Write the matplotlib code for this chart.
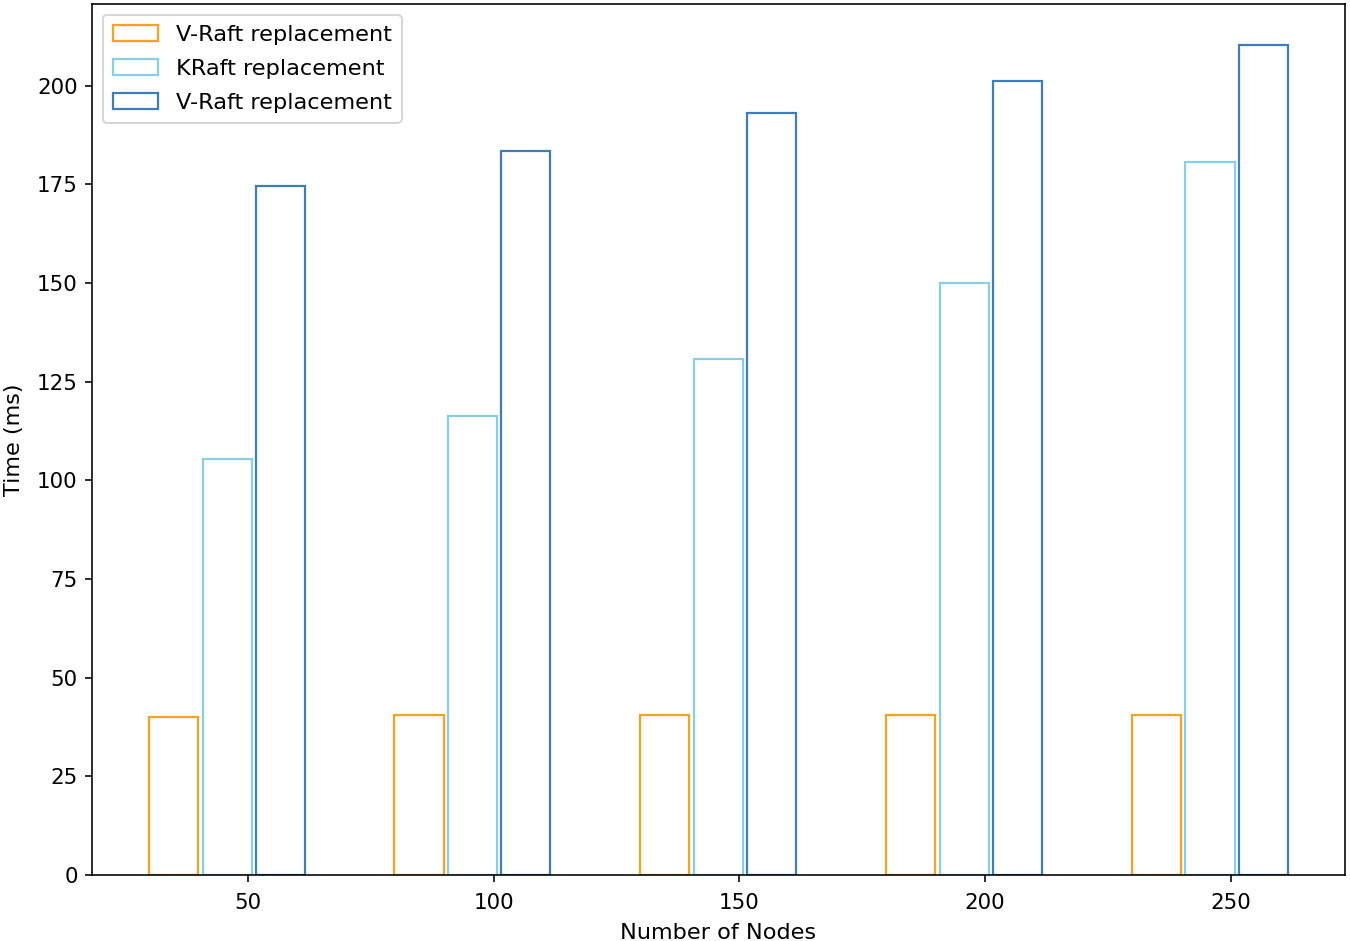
import matplotlib
matplotlib.use("Agg")
import matplotlib.pyplot as plt
import numpy as np

nodes = [50, 100, 150, 200, 250]
vraft_a = [40.0, 40.5, 40.5, 40.5, 40.5]
kraft = [105.5, 116.3, 130.7, 150.0, 180.6]
vraft_b = [174.6, 183.5, 193.0, 201.2, 210.2]
labels = ["V-Raft replacement", "KRaft replacement", "V-Raft replacement"]

colors = ["#F8A31E", "#87CEEB", "#3E7DBB"]
offsets = [-15.2, -4.25, 6.55]
width = 10

plt.rcParams["xtick.labelsize"] = 10.7
plt.rcParams["ytick.labelsize"] = 10.7

fig = plt.figure(figsize=(1350 / 144, 941 / 144), dpi=144)
ax = fig.add_axes([0.068, 0.070, 0.928, 0.926])
x = np.array(nodes, dtype=float)
for vals, off, c, lab in zip([vraft_a, kraft, vraft_b], offsets, colors, labels):
    ax.bar(x + off, vals, width=width, facecolor="none", edgecolor=c, linewidth=1.1, label=lab)

ax.set_xticks(nodes)
ax.set_yticks(np.arange(0, 201, 25))
ax.tick_params(axis="x", pad=5.5)
ax.set_xlabel("Number of Nodes", fontsize=11.2, labelpad=5)
ax.set_ylabel("Time (ms)", fontsize=11.2, labelpad=6.5)
ax.legend(loc="upper left", fontsize=11.2, labelspacing=0.62, borderpad=0.45,
          borderaxespad=0.5)
fig.savefig("out.png", dpi=144)
